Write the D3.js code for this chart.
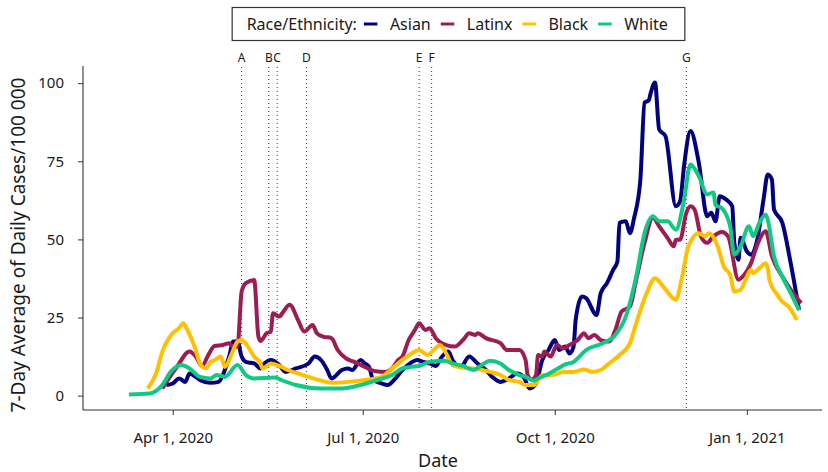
<!DOCTYPE html>
<html>
<head>
<meta charset="utf-8">
<script src="https://cdn.jsdelivr.net/npm/d3@7"></script>
<style>
  body { margin: 0; background: #ffffff; }
  svg { display: block; }
  text { font-family: "Noto Sans", "DejaVu Sans", sans-serif; fill: #1a1a1a; }
</style>
</head>
<body>
<svg id="chart" width="828" height="472"></svg>
<script>
// Groups and their line colours
const groups = ["Asian", "Latinx", "Black", "White"];
const groupColors = ["#02027f", "#9c1d52", "#ffc000", "#12c983"];

// 7-day average of daily cases per 100 000, by group
const asianDates = ["2020-03-29","2020-04-01","2020-04-04","2020-04-07","2020-04-09","2020-04-12","2020-04-14","2020-04-19","2020-04-23","2020-04-25","2020-04-28","2020-04-30","2020-05-02","2020-05-04","2020-05-06","2020-05-10","2020-05-13","2020-05-15","2020-05-18","2020-05-22","2020-05-25","2020-05-30","2020-06-05","2020-06-08","2020-06-11","2020-06-14","2020-06-16","2020-06-21","2020-06-24","2020-06-26","2020-06-30","2020-07-02","2020-07-04","2020-07-06","2020-07-10","2020-07-13","2020-07-16","2020-07-20","2020-07-24","2020-07-27","2020-07-30","2020-08-02","2020-08-05","2020-08-08","2020-08-11","2020-08-13","2020-08-17","2020-08-21","2020-08-25","2020-08-29","2020-09-01","2020-09-05","2020-09-09","2020-09-13","2020-09-16","2020-09-19","2020-09-22","2020-09-25","2020-09-28","2020-10-01","2020-10-03","2020-10-06","2020-10-08","2020-10-10","2020-10-11","2020-10-14","2020-10-16","2020-10-21","2020-10-23","2020-10-26","2020-10-29","2020-10-31","2020-11-01","2020-11-04","2020-11-06","2020-11-08","2020-11-11","2020-11-13","2020-11-15","2020-11-16","2020-11-18","2020-11-20","2020-11-23","2020-11-28","2020-11-30","2020-12-02","2020-12-05","2020-12-09","2020-12-13","2020-12-15","2020-12-17","2020-12-19","2020-12-22","2020-12-25","2020-12-26","2020-12-28","2020-12-29","2021-01-01","2021-01-03","2021-01-06","2021-01-09","2021-01-11","2021-01-13","2021-01-14","2021-01-18","2021-01-22","2021-01-26"];
const asianValues = [3.4,3.9,5.5,4.4,7.1,6,5,4.1,4.4,6.6,12.5,17.3,17.3,12.5,10.8,10.3,8.7,10.3,11.4,9.8,7.6,8.7,10.3,12.5,11.4,8.2,5.5,8.2,8.7,8.2,11.4,10.3,9.2,5,3.9,3.4,5,8.2,10.5,11.4,10.8,10.3,9.5,12.5,14.1,11.4,9.2,12.5,10.3,8.2,6,4.4,5.5,7.1,6,2.3,3.9,11.4,14.6,17.8,14.6,15.7,13.5,15.7,24.2,31.7,31.2,25.8,32.8,36,40.3,42.9,55.3,55.8,52,56.9,69.2,93.8,94.5,97,100.2,85.2,83.1,60.6,62.2,74,84.7,74.5,57.4,58.5,55.8,63.8,62.8,60.6,48.9,43.5,50.5,46.2,45.1,49.9,62.8,70.8,69.2,59.6,55.3,42.4,27.4];

const latinxDates = ["2020-03-27","2020-03-29","2020-04-03","2020-04-09","2020-04-12","2020-04-15","2020-04-18","2020-04-21","2020-04-25","2020-04-28","2020-04-30","2020-05-02","2020-05-04","2020-05-06","2020-05-10","2020-05-12","2020-05-13","2020-05-16","2020-05-18","2020-05-19","2020-05-22","2020-05-24","2020-05-27","2020-05-31","2020-06-03","2020-06-07","2020-06-09","2020-06-12","2020-06-16","2020-06-19","2020-06-23","2020-06-27","2020-07-02","2020-07-07","2020-07-12","2020-07-15","2020-07-18","2020-07-20","2020-07-23","2020-07-26","2020-07-28","2020-07-31","2020-08-02","2020-08-05","2020-08-10","2020-08-14","2020-08-18","2020-08-21","2020-08-24","2020-08-25","2020-08-29","2020-09-05","2020-09-08","2020-09-14","2020-09-17","2020-09-18","2020-09-20","2020-09-22","2020-09-23","2020-09-25","2020-09-26","2020-09-29","2020-10-02","2020-10-05","2020-10-08","2020-10-12","2020-10-15","2020-10-17","2020-10-20","2020-10-23","2020-10-27","2020-10-30","2020-11-02","2020-11-06","2020-11-09","2020-11-13","2020-11-17","2020-11-20","2020-11-24","2020-11-27","2020-11-28","2020-11-30","2020-12-03","2020-12-05","2020-12-07","2020-12-10","2020-12-13","2020-12-16","2020-12-20","2020-12-23","2020-12-28","2020-12-30","2021-01-03","2021-01-06","2021-01-10","2021-01-13","2021-01-18","2021-01-22","2021-01-27"];
const latinxValues = [2.3,4.4,9.2,14.1,12.5,9.5,13,15.9,16.2,16.8,15.5,15.7,33.3,36,37,19,17.5,20,20.5,26.4,25.3,26.9,29.1,24.2,20.5,22.6,20,18.9,18.4,14.6,11.9,10.8,9.2,7.8,7.6,8.7,11.4,12.5,17.8,21,23.2,21,21.6,18.4,16.2,15.7,17.8,20,19.4,20,18.4,16.8,14.6,14.6,11.4,6.6,5.2,6.6,13,12.5,14.1,12.5,16.2,15.1,16.2,17.8,20,18.4,19.4,17.8,17.3,21,26.9,28.5,37.1,48.9,56.9,54.2,50.5,47.8,49.9,49.9,58.5,60.6,59.5,51,48.9,51,52.4,51,37.1,38.1,42.4,48.3,52.6,44.6,38.1,33.9,29.6];

const blackDates = ["2020-03-20","2020-03-24","2020-03-27","2020-04-01","2020-04-04","2020-04-06","2020-04-08","2020-04-12","2020-04-14","2020-04-17","2020-04-19","2020-04-21","2020-04-24","2020-04-26","2020-04-29","2020-05-02","2020-05-04","2020-05-07","2020-05-10","2020-05-13","2020-05-14","2020-05-18","2020-05-22","2020-05-26","2020-05-31","2020-06-05","2020-06-10","2020-06-16","2020-06-24","2020-07-02","2020-07-10","2020-07-16","2020-07-21","2020-07-26","2020-07-28","2020-08-01","2020-08-04","2020-08-07","2020-08-10","2020-08-13","2020-08-17","2020-08-23","2020-08-27","2020-08-31","2020-09-05","2020-09-09","2020-09-14","2020-09-17","2020-09-21","2020-09-25","2020-09-30","2020-10-05","2020-10-10","2020-10-15","2020-10-19","2020-10-23","2020-10-27","2020-11-01","2020-11-06","2020-11-09","2020-11-14","2020-11-18","2020-11-22","2020-11-28","2020-12-01","2020-12-04","2020-12-09","2020-12-12","2020-12-14","2020-12-18","2020-12-21","2020-12-24","2020-12-26","2020-12-29","2021-01-01","2021-01-03","2021-01-04","2021-01-07","2021-01-10","2021-01-11","2021-01-12","2021-01-15","2021-01-18","2021-01-21","2021-01-25"];
const blackValues = [2.3,7.1,14.1,20,21.6,23.2,21,14.6,10.3,8.7,10.8,11.4,12.5,9.2,13,17.3,17.8,15.7,12.5,10.3,8.7,10.3,9.5,8.2,7.1,6,5,4.1,4.4,5,6,9.2,11.9,14.1,14.6,13,14.6,16.2,13.5,9.8,9,8.7,8.2,7.6,6.6,5,4.4,3.4,3.4,6.6,6.6,7.6,7.6,8.4,7.6,8.2,10.3,13,16.8,23.2,32.8,37.6,34.9,30.7,38.1,47.8,52,51,52,47.8,41.3,38.7,33.3,33.9,38.1,40.3,39.2,40.8,42.4,40.8,36.5,32.8,30.1,28.5,24.2];

const whiteDates = ["2020-03-11","2020-03-21","2020-03-27","2020-03-31","2020-04-05","2020-04-09","2020-04-14","2020-04-19","2020-04-22","2020-04-26","2020-05-02","2020-05-06","2020-05-10","2020-05-20","2020-05-23","2020-05-30","2020-06-11","2020-06-21","2020-06-30","2020-07-08","2020-07-15","2020-07-20","2020-07-24","2020-07-28","2020-08-02","2020-08-09","2020-08-13","2020-08-18","2020-08-23","2020-08-27","2020-08-31","2020-09-05","2020-09-09","2020-09-14","2020-09-17","2020-09-21","2020-09-23","2020-09-27","2020-10-02","2020-10-06","2020-10-10","2020-10-16","2020-10-24","2020-10-30","2020-11-04","2020-11-09","2020-11-13","2020-11-17","2020-11-20","2020-11-24","2020-11-28","2020-12-01","2020-12-02","2020-12-05","2020-12-09","2020-12-13","2020-12-16","2020-12-17","2020-12-20","2020-12-24","2020-12-26","2020-12-29","2021-01-02","2021-01-04","2021-01-07","2021-01-10","2021-01-11","2021-01-14","2021-01-18","2021-01-22","2021-01-26"];
const whiteValues = [0.4,0.7,3.4,7.6,9.8,8.7,6,5.5,6.6,6,9.8,6.6,5.5,5.8,5,3.4,2.3,2.3,3.4,5,6.6,8.7,9.2,9.5,10.8,11.2,10.3,9.5,8.2,9.8,11.2,10.3,8.2,6.6,6,4.8,5.5,6.6,8.5,10,10.8,14.6,16.8,19.4,25.3,38.1,52,57.4,55.8,55.8,53.1,59.5,63,74,70.2,64.4,65,61,60,54.2,45.1,47.8,54.2,51,55.3,57.9,56.3,44.6,38.1,32.8,27.4];

// Policy events marked with dotted lines
const eventLabels = ["A", "B", "C", "D", "E", "F", "G"];
const eventDates = ["2020-05-04","2020-05-17","2020-05-21","2020-06-04","2020-07-28","2020-08-03","2020-12-03"];

// Axis ticks
const xTickDates = ["2020-04-01","2020-07-01","2020-10-01","2021-01-01"];
const yTickValues = [0, 25, 50, 75, 100];

const parse = d3.utcParse("%Y-%m-%d");
const seriesDates = [asianDates, latinxDates, blackDates, whiteDates];
const seriesValues = [asianValues, latinxValues, blackValues, whiteValues];
const series = groups.map((g, i) => ({
  name: g,
  color: groupColors[i],
  points: seriesDates[i].map((d, j) => ({ date: parse(d), value: seriesValues[i][j] }))
}));

const svg = d3.select("#chart");
const panel = { left: 83, right: 822, top: 66, bottom: 410 };

const x = d3.scaleUtc()
  .domain([parse("2020-02-18"), parse("2021-02-06")])
  .range([panel.left, panel.right]);
const y = d3.scaleLinear()
  .domain([-4.6, 105.5])
  .range([panel.bottom, panel.top]);

// Event markers
const events = svg.append("g");
eventDates.forEach((d, i) => {
  const px = x(parse(d));
  events.append("line")
    .attr("x1", px).attr("x2", px)
    .attr("y1", panel.top + 1).attr("y2", panel.bottom)
    .attr("stroke", "#333").attr("stroke-width", 1)
    .attr("stroke-dasharray", "1,3");
  events.append("text")
    .attr("x", px).attr("y", 57)
    .attr("text-anchor", "middle").attr("dominant-baseline", "central")
    .attr("font-size", 12).text(eventLabels[i]);
});

// Series lines
const line = d3.line()
  .x(d => x(d.date))
  .y(d => y(d.value))
  .curve(d3.curveMonotoneX);
svg.append("g").selectAll("path")
  .data(series)
  .join("path")
  .attr("d", s => line(s.points))
  .attr("fill", "none")
  .attr("stroke", s => s.color)
  .attr("stroke-width", 4)
  .attr("stroke-linejoin", "round");

// Axes
const xAxis = svg.append("g")
  .attr("transform", `translate(0,${panel.bottom})`)
  .call(d3.axisBottom(x)
    .tickValues(xTickDates.map(parse))
    .tickFormat(d3.utcFormat("%b %-d, %Y"))
    .tickSizeOuter(0).tickSize(5));
xAxis.select(".domain").remove();
xAxis.selectAll(".tick line").attr("stroke", "#333");
xAxis.selectAll(".tick text")
  .attr("y", 27).attr("dy", null)
  .attr("dominant-baseline", "central")
  .attr("font-size", 15).attr("font-family", null).attr("fill", "#1a1a1a");

const yAxis = svg.append("g")
  .attr("transform", `translate(${panel.left},0)`)
  .call(d3.axisLeft(y)
    .tickValues(yTickValues)
    .tickSizeOuter(0).tickSize(5).tickPadding(14));
yAxis.select(".domain").remove();
yAxis.selectAll(".tick line").attr("stroke", "#333");
yAxis.selectAll(".tick text")
  .attr("font-size", 15).attr("font-family", null).attr("fill", "#1a1a1a");

svg.append("line")
  .attr("x1", panel.left).attr("x2", panel.right)
  .attr("y1", panel.bottom).attr("y2", panel.bottom)
  .attr("stroke", "#333").attr("stroke-width", 1.1);
svg.append("line")
  .attr("x1", panel.left).attr("x2", panel.left)
  .attr("y1", panel.top).attr("y2", panel.bottom)
  .attr("stroke", "#333").attr("stroke-width", 1.1);

// Axis titles
svg.append("text")
  .attr("x", 438).attr("y", 467)
  .attr("text-anchor", "middle")
  .attr("font-size", 18).text("Date");
svg.append("text")
  .attr("transform", "translate(18,245) rotate(-90)")
  .attr("text-anchor", "middle").attr("dominant-baseline", "central")
  .attr("font-size", 19).text("7-Day Average of Daily Cases/100 000");

// Legend
const legend = svg.append("g");
const legendY = 24;
let cx = 0;
const legendTitle = legend.append("text")
  .attr("x", cx).attr("y", legendY)
  .attr("dominant-baseline", "central").attr("font-size", 16)
  .text("Race/Ethnicity:");
cx += legendTitle.node().getComputedTextLength() + 7;
series.forEach(s => {
  legend.append("line")
    .attr("x1", cx).attr("x2", cx + 13.5)
    .attr("y1", legendY).attr("y2", legendY)
    .attr("stroke", s.color).attr("stroke-width", 3);
  cx += 13.5 + 12.5;
  const t = legend.append("text")
    .attr("x", cx).attr("y", legendY)
    .attr("dominant-baseline", "central").attr("font-size", 16)
    .text(s.name);
  cx += t.node().getComputedTextLength() + 10;
});
const contentW = cx - 10;
const padL = 14.5, padR = 17;
const boxW = contentW + padL + padR;
legend.insert("rect", ":first-child")
  .attr("x", -padL).attr("y", 7.5)
  .attr("width", boxW).attr("height", 33)
  .attr("fill", "#fff").attr("stroke", "#333").attr("stroke-width", 1.2);
legend.attr("transform", `translate(${458.5 - boxW / 2 + padL},0)`);
</script>
</body>
</html>
